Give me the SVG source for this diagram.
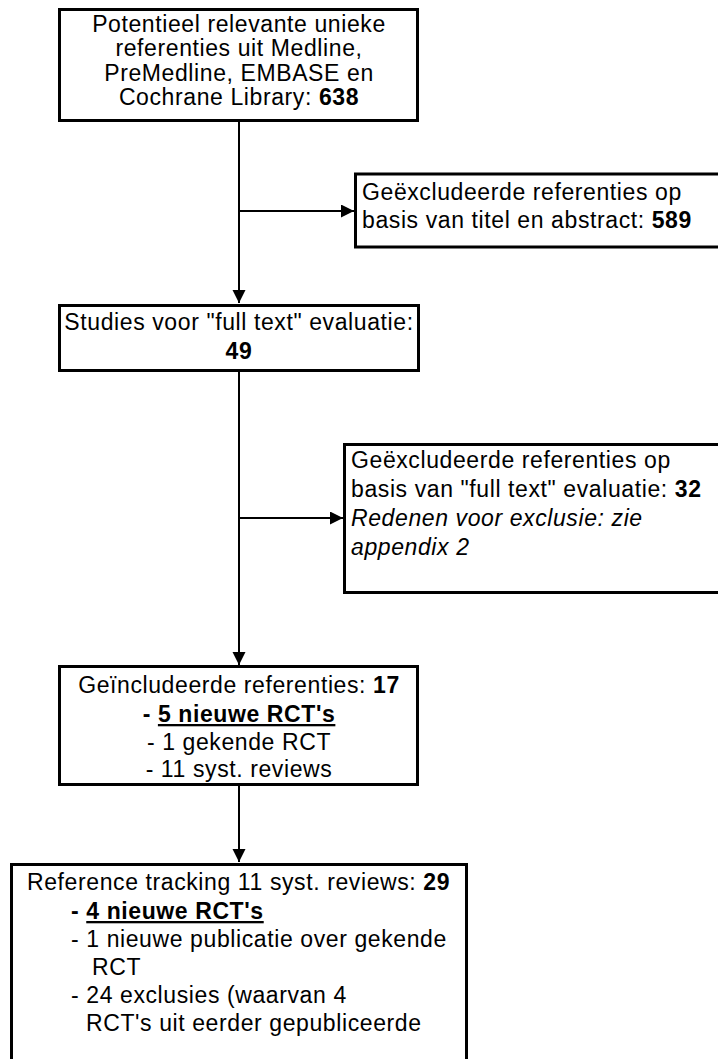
<svg xmlns="http://www.w3.org/2000/svg" width="718" height="1059" viewBox="0 0 718 1059">
<defs>
<marker id="arr" markerUnits="userSpaceOnUse" markerWidth="14" markerHeight="14" refX="13" refY="6.5" orient="auto">
<path d="M0,0 L13,6.5 L0,13 Z" fill="#000"/>
</marker>
<style>
.box{fill:#fff;stroke:#000;stroke-width:3}
.t{font-family:"Liberation Sans",Arial,sans-serif;font-size:23px;letter-spacing:0.6px;fill:#000}
.c{text-anchor:middle}
.b{font-weight:bold}
.i{font-style:italic}
.u{text-decoration:underline}
.con{stroke:#000;stroke-width:2;fill:none}
</style>
</defs>
<rect width="718" height="1059" fill="#fff"/>
<g id="connectors">
<line class="con" x1="239" y1="122" x2="239" y2="303" marker-end="url(#arr)"/>
<line class="con" x1="239" y1="211" x2="354" y2="211" marker-end="url(#arr)"/>
<line class="con" x1="239" y1="372" x2="239" y2="665" marker-end="url(#arr)"/>
<line class="con" x1="239" y1="518" x2="343" y2="518" marker-end="url(#arr)"/>
<line class="con" x1="239" y1="786" x2="239" y2="862" marker-end="url(#arr)"/>
</g>
<g id="n1">
<rect class="box" x="59.5" y="9.5" width="358" height="111"/>
<text class="t c" x="239" y="32">Potentieel relevante unieke</text>
<text class="t c" x="239" y="56">referenties uit Medline,</text>
<text class="t c" x="239" y="81">PreMedline, EMBASE en</text>
<text class="t c" x="239" y="105">Cochrane Library: <tspan class="b">638</tspan></text>
</g>
<g id="n2">
<rect class="box" x="355.5" y="174" width="380" height="73"/>
<text class="t" x="362" y="200">Geëxcludeerde referenties op</text>
<text class="t" x="362" y="228">basis van titel en abstract: <tspan class="b">589</tspan></text>
</g>
<g id="n3">
<rect class="box" x="59.5" y="305.5" width="359" height="65"/>
<text class="t c" x="239" y="330">Studies voor "full text" evaluatie:</text>
<text class="t c b" x="239" y="359">49</text>
</g>
<g id="n4">
<rect class="box" x="344.5" y="444.5" width="400" height="148"/>
<text class="t" x="351" y="468">Geëxcludeerde referenties op</text>
<text class="t" x="351" y="497">basis van "full text" evaluatie: <tspan class="b">32</tspan></text>
<text class="t i" x="351" y="526">Redenen voor exclusie: zie</text>
<text class="t i" x="351" y="555">appendix 2</text>
</g>
<g id="n5">
<rect class="box" x="59.5" y="666.5" width="358" height="118"/>
<text class="t c" x="239" y="693">Geïncludeerde referenties: <tspan class="b">17</tspan></text>
<text class="t c b" x="239" y="722">- <tspan class="u">5 nieuwe RCT's</tspan></text>
<text class="t c" x="239" y="750">- 1 gekende RCT</text>
<text class="t c" x="239" y="777">- 11 syst. reviews</text>
</g>
<g id="n6">
<rect class="box" x="11.5" y="864.5" width="455" height="250"/>
<text class="t" x="27" y="890">Reference tracking 11 syst. reviews: <tspan class="b">29</tspan></text>
<text class="t b" x="71" y="919">- <tspan class="u">4 nieuwe RCT's</tspan></text>
<text class="t" x="71" y="947">- 1 nieuwe publicatie over gekende</text>
<text class="t" x="92" y="975">RCT</text>
<text class="t" x="71" y="1003">- 24 exclusies (waarvan 4</text>
<text class="t" x="86" y="1031">RCT's uit eerder gepubliceerde</text>
</g>
</svg>
